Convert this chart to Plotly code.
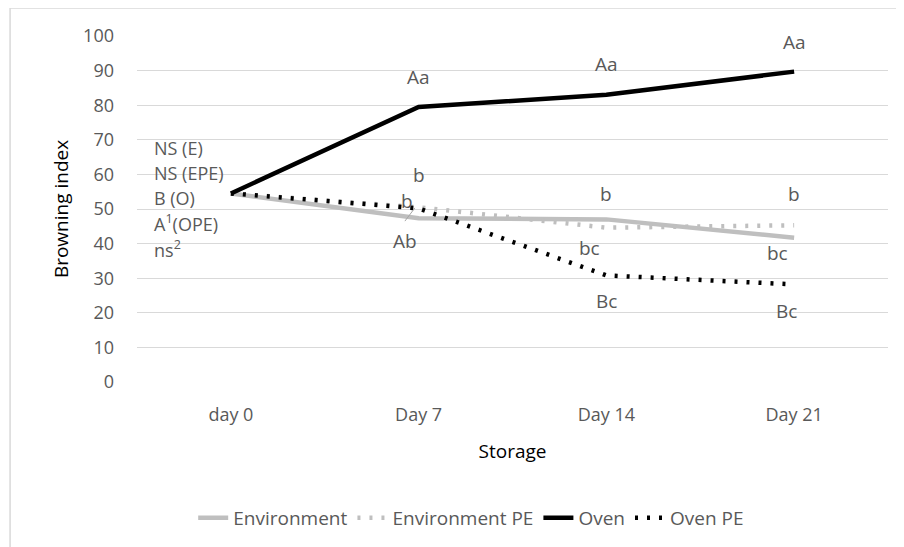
import plotly.graph_objects as go

categories = ["day 0", "Day 7", "Day 14", "Day 21"]
environment = [54.5, 47.3, 47.0, 41.7]
environment_pe = [54.5, 50.5, 44.6, 45.3]
oven = [54.5, 79.5, 83.0, 89.7]
oven_pe = [54.5, 50.2, 30.8, 28.2]

y_ticks = [0, 10, 20, 30, 40, 50, 60, 70, 80, 90, 100]

# data-label texts (category, text)
label_texts = [
    ("Day 7", "Aa"), ("Day 14", "Aa"), ("Day 21", "Aa"),
    ("Day 7", "b"), ("Day 7", "b"), ("Day 7", "Ab"),
    ("Day 14", "b"), ("Day 14", "bc"), ("Day 14", "Bc"),
    ("Day 21", "b"), ("Day 21", "bc"), ("Day 21", "Bc"),
]
# label placement (x offset in category units, y in data units)
label_pos = [
    (0, 88.2), (0, 92.0), (0, 98.3),
    (0, 59.8), (-0.06, 52.2), (-0.07, 40.8),
    (0, 54.2), (-0.09, 38.8), (0, 23.4),
    (0, 54.2), (-0.09, 37.2), (-0.04, 20.5),
]

side_notes = ["NS (E)", "NS (EPE)", "B (O)", "A<sup>1</sup>(OPE)", "ns<sup>2</sup>"]
side_y = [67.6, 60.4, 53.2, 46.0, 38.4]

GRAY_TXT = "#595959"
FONT = "Open Sans"

fig = go.Figure()
fig.add_trace(go.Scatter(x=categories, y=environment, name="Environment", mode="lines",
                         line=dict(color="#bfbfbf", width=4.5)))
fig.add_trace(go.Scatter(x=categories, y=environment_pe, name="Environment PE", mode="lines",
                         line=dict(color="#bfbfbf", width=4.5, dash="3px,9px")))
fig.add_trace(go.Scatter(x=categories, y=oven, name="Oven", mode="lines",
                         line=dict(color="#000000", width=4.5)))
fig.add_trace(go.Scatter(x=categories, y=oven_pe, name="Oven PE", mode="lines",
                         line=dict(color="#000000", width=4.5, dash="3px,9px")))

annotations = []
for (cat, txt), (dx, yv) in zip(label_texts, label_pos):
    annotations.append(dict(x=categories.index(cat) + dx, y=yv, xref="x", yref="y",
                            text=txt, showarrow=False,
                            font=dict(family=FONT, size=19, color=GRAY_TXT)))
for txt, yv in zip(side_notes, side_y):
    annotations.append(dict(x=-0.42, y=yv, xref="x", yref="y", text=txt, showarrow=False,
                            xanchor="left", font=dict(family=FONT, size=18, color=GRAY_TXT)))

fig.update_layout(
    width=896, height=539,
    margin=dict(l=129, r=16, t=28, b=165, autoexpand=False),
    paper_bgcolor="white", plot_bgcolor="white",
    font=dict(family=FONT, size=18, color=GRAY_TXT),
    showlegend=True,
    legend=dict(orientation="h", x=0.445, xanchor="center", y=-0.393, yanchor="middle",
                font=dict(family=FONT, size=19, color=GRAY_TXT), traceorder="normal"),
    annotations=annotations,
    shapes=[
        dict(type="line", xref="x", yref="y", x0=0.927, y0=46.5, x1=0.98, y1=50.3,
             line=dict(color="#a6a6a6", width=1)),
        dict(type="line", xref="paper", yref="paper", x0=-0.169, y0=1.081, x1=1.03, y1=1.081,
             line=dict(color="#d9d9d9", width=1.5)),
        dict(type="line", xref="paper", yref="paper", x0=-0.169, y0=1.081, x1=-0.169, y1=-0.6,
             line=dict(color="#d9d9d9", width=1.5)),
    ],
)
fig.update_xaxes(type="category", categoryorder="array", categoryarray=categories,
                 range=[-0.5, 3.5], showgrid=False, showline=False, zeroline=False,
                 tickfont=dict(family=FONT, size=18, color=GRAY_TXT), ticklabelstandoff=20,
                 title=dict(text="Storage", font=dict(family=FONT, size=19, color="#000000"),
                            standoff=19))
fig.update_yaxes(range=[0, 100], tickvals=y_ticks, showgrid=True, gridcolor="#d9d9d9",
                 gridwidth=1.3, zeroline=False, showline=False,
                 tickfont=dict(family=FONT, size=18, color=GRAY_TXT), ticklabelstandoff=22,
                 title=dict(text="Browning index", font=dict(family=FONT, size=19, color="#000000"),
                            standoff=9))

fig.write_html("out.html")
